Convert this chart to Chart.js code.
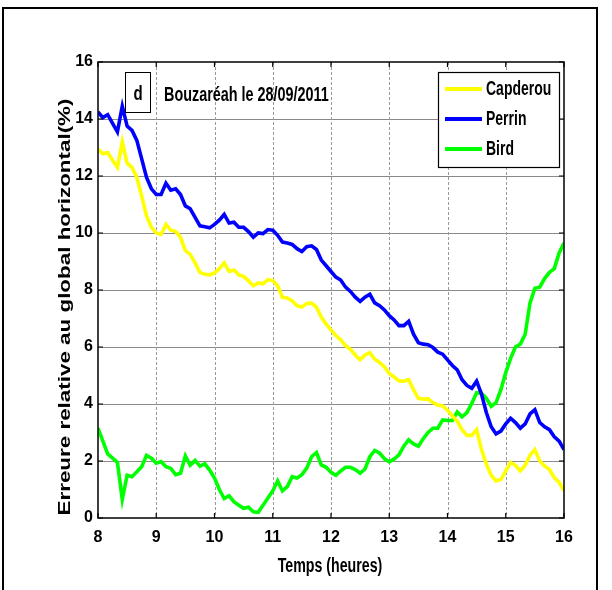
<!DOCTYPE html>
<html>
<head>
<meta charset="utf-8">
<script src="https://cdn.jsdelivr.net/npm/chart.js@4.4.1/dist/chart.umd.min.js"></script>
<style>
html,body{margin:0;padding:0;background:#fff;}
#wrap{width:612px;height:590px;}
</style>
</head>
<body>
<div id="wrap"><canvas id="c" width="612" height="590"></canvas></div>
<script>
// minutes after 08:00 (5-minute samples)
const MINUTES = [0,5,10,15,20,25,30,35,40,45,50,55,60,65,70,75,80,85,90,95,100,105,110,115,120,125,130,135,140,145,150,155,160,165,170,175,180,185,190,195,200,205,210,215,220,225,230,235,240,245,250,255,260,265,270,275,280,285,290,295,300,305,310,315,320,325,330,335,340,345,350,355,360,365,370,375,380,385,390,395,400,405,410,415,420,425,430,435,440,445,450,455,460,465,470,475,480];

const capderou = [12.95,12.78,12.82,12.55,12.3,13.2,12.45,12.3,11.95,11.3,10.6,10.2,10.0,9.95,10.3,10.1,10.05,9.85,9.38,9.25,8.95,8.62,8.55,8.53,8.6,8.75,8.95,8.65,8.7,8.53,8.48,8.32,8.15,8.25,8.22,8.36,8.33,8.15,7.74,7.72,7.62,7.45,7.4,7.53,7.54,7.4,7.05,6.8,6.6,6.4,6.25,6.05,5.92,5.72,5.55,5.72,5.8,5.57,5.46,5.3,5.07,4.95,4.81,4.8,4.85,4.5,4.2,4.17,4.18,4.05,3.96,3.93,3.78,3.58,3.4,3.1,2.9,2.9,3.1,2.4,1.9,1.5,1.3,1.35,1.65,1.95,1.85,1.65,1.85,2.2,2.4,2.0,1.83,1.7,1.42,1.25,0.95];

const perrin = [14.25,14.05,14.15,13.85,13.55,14.45,13.75,13.6,13.25,12.6,11.95,11.55,11.35,11.35,11.75,11.5,11.55,11.35,10.95,10.85,10.55,10.25,10.22,10.18,10.3,10.45,10.65,10.35,10.38,10.2,10.2,10.05,9.85,10.0,9.98,10.12,10.1,9.92,9.68,9.65,9.6,9.45,9.35,9.52,9.55,9.42,9.05,8.85,8.65,8.45,8.35,8.1,7.95,7.75,7.6,7.75,7.85,7.55,7.45,7.3,7.1,6.95,6.75,6.75,6.9,6.45,6.15,6.1,6.08,5.98,5.82,5.75,5.55,5.35,5.2,4.85,4.65,4.55,4.8,4.35,3.7,3.2,2.95,3.05,3.3,3.5,3.35,3.15,3.3,3.65,3.8,3.35,3.2,3.1,2.85,2.7,2.4];

const bird = [3.15,2.7,2.25,2.1,1.95,0.65,1.5,1.45,1.62,1.8,2.2,2.1,1.92,1.98,1.8,1.74,1.52,1.57,2.18,1.85,2.02,1.82,1.9,1.68,1.4,1.0,0.68,0.78,0.57,0.45,0.34,0.38,0.22,0.2,0.45,0.7,0.95,1.3,0.95,1.1,1.45,1.4,1.52,1.75,2.15,2.3,1.86,1.78,1.6,1.5,1.65,1.78,1.78,1.7,1.57,1.72,2.15,2.37,2.28,2.08,1.97,2.07,2.22,2.52,2.74,2.6,2.52,2.78,3.0,3.15,3.15,3.44,3.42,3.42,3.72,3.55,3.7,4.02,4.4,4.38,4.2,3.92,4.05,4.5,5.1,5.6,6.0,6.1,6.45,7.55,8.06,8.1,8.4,8.62,8.75,9.3,9.65];

const SERIES_NAMES = ["Capderou", "Perrin", "Bird"];
const SERIES_COLORS = ["#ffff00", "#0000ff", "#00ff00"];
const X_TICKS = [8,9,10,11,12,13,14,15,16];
const Y_TICKS = [0,2,4,6,8,10,12,14,16];
const X_TITLE = "Temps (heures)";
const Y_TITLE = "Erreure relative au global horizontal(%)";
const PANEL_LABEL = "d";
const ANNOTATION = "Bouzaréah le 28/09/2011";

const FONT = '"Liberation Sans", Arial, sans-serif';
const STRETCH = 1.4;

function toPoints(vals){ return vals.map((v,i)=>({x: 8 + MINUTES[i]/60, y: v})); }

const datasets = [capderou, perrin, bird].map((vals,k)=>({
  label: SERIES_NAMES[k],
  data: toPoints(vals),
  borderColor: SERIES_COLORS[k],
  backgroundColor: SERIES_COLORS[k],
  borderWidth: 3.6,
  pointRadius: 0,
  tension: 0,
  fill: false
}));

function stretchedText(ctx, txt, x, y, size, align){
  ctx.save();
  ctx.translate(x, y);
  ctx.scale(1, STRETCH);
  ctx.font = 'bold ' + size + 'px ' + FONT;
  ctx.textAlign = align; ctx.textBaseline = 'middle';
  ctx.fillStyle = '#000';
  ctx.fillText(txt, 0, 0);
  ctx.restore();
}

const framePlugin = {
  id: 'frame',
  beforeDatasetsDraw(chart){
    const ctx = chart.ctx, a = chart.chartArea;
    const xs = chart.scales.x, ys = chart.scales.y;
    ctx.save();
    ctx.strokeStyle = '#8a8a8a'; ctx.lineWidth = 1;
    Y_TICKS.forEach(v=>{
      if (v===0 || v===16) return;
      const y = Math.round(ys.getPixelForValue(v)) + 0.5;
      ctx.beginPath(); ctx.moveTo(a.left, y); ctx.lineTo(a.right, y); ctx.stroke();
    });
    ctx.setLineDash([3,2]); ctx.strokeStyle = '#9a9a9a';
    X_TICKS.forEach(v=>{
      if (v===8 || v===16) return;
      const x = Math.round(xs.getPixelForValue(v)) + 0.5;
      ctx.beginPath(); ctx.moveTo(x, a.top); ctx.lineTo(x, a.bottom); ctx.stroke();
    });
    ctx.setLineDash([]);
    ctx.restore();
  },
  afterDatasetsDraw(chart){
    const ctx = chart.ctx, a = chart.chartArea;
    const xs = chart.scales.x, ys = chart.scales.y;
    ctx.save();
    ctx.strokeStyle = '#000'; ctx.lineWidth = 1.5;
    ctx.strokeRect(a.left, a.top, a.right - a.left, a.bottom - a.top);
    ctx.lineWidth = 1.2;
    X_TICKS.forEach(v=>{
      const x = xs.getPixelForValue(v);
      ctx.beginPath(); ctx.moveTo(x, a.bottom); ctx.lineTo(x, a.bottom-5);
      ctx.moveTo(x, a.top); ctx.lineTo(x, a.top+5); ctx.stroke();
    });
    Y_TICKS.forEach(v=>{
      const y = ys.getPixelForValue(v);
      ctx.beginPath(); ctx.moveTo(a.left, y); ctx.lineTo(a.left+5, y);
      ctx.moveTo(a.right, y); ctx.lineTo(a.right-5, y); ctx.stroke();
    });
    // panel label box
    ctx.fillStyle = '#fff';
    ctx.fillRect(125, 72, 25, 40);
    ctx.lineWidth = 1;
    ctx.strokeStyle = '#000';
    ctx.strokeRect(125.5, 72.5, 25, 40);
    stretchedText(ctx, PANEL_LABEL, 138, 94, 15, 'center');
    stretchedText(ctx, ANNOTATION, 164, 95, 14.4, 'left');
    // legend
    const lx = 438, ly = 72, lw = 121, lh = 95;
    ctx.fillStyle = '#fff'; ctx.fillRect(lx, ly, lw, lh);
    ctx.strokeStyle = '#000'; ctx.lineWidth = 1.2;
    ctx.strokeRect(lx+0.5, ly+0.5, lw, lh);
    const rows = [89, 119, 149];
    SERIES_NAMES.forEach((n,k)=>{
      ctx.strokeStyle = SERIES_COLORS[k]; ctx.lineWidth = 4;
      ctx.beginPath(); ctx.moveTo(445, rows[k]); ctx.lineTo(482, rows[k]); ctx.stroke();
      stretchedText(ctx, n, 486, rows[k]+1, 14, 'left');
    });
    // axis titles
    stretchedText(ctx, X_TITLE, 330, 567, 14.2, 'center');
    ctx.save();
    ctx.translate(66, 307);
    ctx.rotate(-Math.PI/2);
    ctx.scale(STRETCH, 1);
    ctx.font = 'bold 16px ' + FONT;
    ctx.textAlign = 'center'; ctx.textBaseline = 'middle';
    ctx.fillStyle = '#000';
    ctx.fillText(Y_TITLE, 0, 0);
    ctx.restore();
    // outer frame
    ctx.strokeStyle = '#000'; ctx.lineWidth = 2;
    ctx.strokeRect(3, 8, 594, 640);
    ctx.restore();
  }
};

new Chart(document.getElementById('c'), {
  type: 'line',
  data: { datasets },
  options: {
    responsive: false,
    animation: false,
    devicePixelRatio: 1,
    layout: { padding: { left: 0, right: 48, top: 62, bottom: 0 } },
    plugins: { legend: { display: false }, tooltip: { enabled: false } },
    scales: {
      x: {
        type: 'linear', min: 8, max: 16,
        afterFit(s){ s.height = 72; },
        afterBuildTicks(s){ s.ticks = X_TICKS.map(v=>({value:v})); },
        grid: { display: false, drawTicks: false },
        border: { display: false },
        ticks: { color: '#000', padding: 10, font: { family: FONT, size: 16, weight: 'bold' }, maxRotation: 0 }
      },
      y: {
        type: 'linear', min: 0, max: 16,
        afterFit(s){ s.width = 98; },
        afterBuildTicks(s){ s.ticks = Y_TICKS.map(v=>({value:v})); },
        grid: { display: false, drawTicks: false },
        border: { display: false },
        ticks: { color: '#000', padding: 5, font: { family: FONT, size: 16, weight: 'bold' } }
      }
    }
  },
  plugins: [framePlugin]
});
</script>
</body>
</html>
